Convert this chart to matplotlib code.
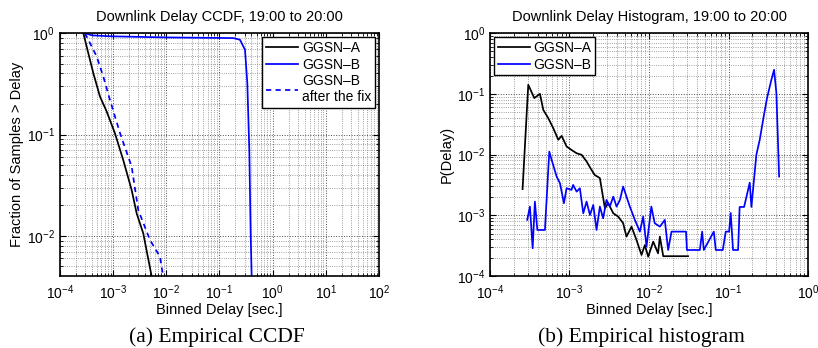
import matplotlib
matplotlib.use("Agg")
import matplotlib.pyplot as plt
from matplotlib.ticker import LogLocator, NullFormatter

# Данные для CCDF (левый график)
ccdf_a_x = [2.75e-4, 3.41e-4, 4.24e-4, 5.65e-4, 7.55e-4, 1.08e-3, 1.55e-3, 2.23e-3, 2.77e-3, 3.69e-3, 5.3e-3]
ccdf_a_y = [1.0, 0.635, 0.403, 0.237, 0.169, 0.103, 0.056, 0.0284, 0.0167, 0.0106, 0.0040]

ccdf_b_x = [2.95e-4, 4.0e-4, 8.7e-4, 1.01e-2, 0.182, 0.243, 0.302, 0.334, 0.364, 0.386, 0.403]
ccdf_b_y = [1.0, 0.95, 0.93, 0.906, 0.893, 0.86, 0.685, 0.321, 0.0706, 0.0106, 0.0040]

ccdf_fix_x = [2.95e-4, 4.9e-4, 6.53e-4, 8.7e-4, 1.35e-3, 2.23e-3, 2.97e-3, 4.93e-3, 7.6e-3, 8.8e-3]
ccdf_fix_y = [1.0, 0.589, 0.373, 0.22, 0.103, 0.0483, 0.018, 0.00914, 0.00625, 0.0039]

ccdf_xticks = [1e-4, 1e-3, 1e-2, 1e-1, 1e0, 1e1, 1e2]
ccdf_yticks = [1e-2, 1e-1, 1e0]

# Данные для гистограммы (правый график)
hist_a_x = [2.57e-4, 3.03e-4, 3.61e-4, 4.25e-4, 4.68e-4, 5.41e-4, 6.25e-4, 7.23e-4, 7.97e-4, 9.19e-4,
            1.06e-3, 1.23e-3, 1.42e-3, 1.64e-3, 1.89e-3, 2.08e-3, 2.41e-3, 2.79e-3, 3.07e-3, 3.55e-3,
            4.10e-3, 4.73e-3, 5.21e-3, 6.03e-3, 6.97e-3, 8.05e-3, 8.87e-3, 9.77e-3, 1.13e-2, 1.30e-2,
            1.37e-2, 1.51e-2, 3.10e-2]
hist_a_y = [2.7e-3, 0.141, 0.085, 0.100, 0.0545, 0.0397, 0.0272, 0.0175, 0.0203, 0.0136,
            0.0119, 0.0105, 0.0099, 0.0077, 0.0056, 0.0046, 0.0041, 0.0013, 0.00158, 0.00108,
            0.00095, 0.00074, 0.000445, 0.00065, 0.00039, 0.000222, 0.000324, 0.000208, 0.000368, 0.000236,
            0.000445, 0.000212, 0.000212]

hist_b_x = [2.94e-4, 3.18e-4, 3.44e-4, 3.67e-4, 3.94e-4, 4.91e-4, 5.57e-4, 5.96e-4, 6.89e-4, 7.59e-4,
            8.51e-4, 9.19e-4, 1.06e-3, 1.11e-3, 1.23e-3, 1.35e-3, 1.49e-3, 1.64e-3, 1.81e-3, 1.99e-3,
            2.19e-3, 2.41e-3, 2.65e-3, 2.92e-3, 3.22e-3, 3.55e-3, 3.91e-3, 4.31e-3, 4.73e-3, 5.21e-3,
            5.74e-3, 6.64e-3, 7.67e-3, 8.45e-3, 9.31e-3, 1.07e-2, 1.18e-2, 1.37e-2, 1.58e-2, 1.74e-2,
            1.92e-2, 2.92e-2, 3.0e-2, 4.36e-2, 4.66e-2, 4.89e-2, 6.53e-2, 6.92e-2, 8.47e-2, 9.23e-2,
            0.1017, 0.1066, 0.114, 0.132, 0.138, 0.157, 0.185, 0.194, 0.224, 0.247,
            0.277, 0.305, 0.346, 0.374, 0.400, 0.433]
hist_b_y = [0.00084, 0.00139, 0.000286, 0.00168, 0.000573, 0.000573, 0.0112, 0.0082, 0.00434, 0.00337,
            0.00158, 0.00279, 0.00262, 0.00316, 0.00245, 0.00279, 0.00108, 0.00168, 0.00101, 0.00148,
            0.000573, 0.00139, 0.00089, 0.00179, 0.00139, 0.00203, 0.00139, 0.00179, 0.00297, 0.00203,
            0.00139, 0.00084, 0.000538, 0.00095, 0.000305, 0.00139, 0.00074, 0.00065, 0.00084, 0.000268,
            0.000538, 0.000538, 0.000268, 0.000268, 0.000538, 0.000268, 0.000538, 0.000268, 0.000268, 0.000538,
            0.000538, 0.00109, 0.000268, 0.000268, 0.00137, 0.00137, 0.00345, 0.00137, 0.0099, 0.0175,
            0.0423, 0.085, 0.170, 0.249, 0.103, 0.00434]

hist_xticks = [1e-4, 1e-3, 1e-2, 1e-1, 1e0]
hist_yticks = [1e-4, 1e-3, 1e-2, 1e-1, 1e0]

plt.rcParams['font.family'] = ['Liberation Sans', 'DejaVu Sans']
plt.rcParams['font.size'] = 10
plt.rcParams['mathtext.fontset'] = 'custom'
plt.rcParams['mathtext.rm'] = 'Liberation Sans'
plt.rcParams['mathtext.it'] = 'Liberation Sans:italic'
plt.rcParams['axes.unicode_minus'] = False

fig = plt.figure(figsize=(8.18, 3.48), dpi=100)
ax1 = fig.add_axes([0.0733, 0.2069, 0.390, 0.698])
ax2 = fig.add_axes([0.599, 0.2069, 0.3888, 0.698])


def style_axes(ax, xticks, yticks):
    ax.set_xscale('log')
    ax.set_yscale('log')
    ax.set_xticks(xticks)
    ax.set_yticks(yticks)
    ax.grid(True, which='major', linestyle=':', color='0.3', linewidth=0.7)
    ax.grid(True, which='minor', linestyle=':', color='0.5', linewidth=0.6)
    ax.tick_params(which='both', direction='in', top=True, right=True, labelsize=10)
    ax.tick_params(axis='x', which='major', pad=5)
    ax.tick_params(which='major', length=4, width=0.8)
    ax.tick_params(which='minor', length=2, width=0.6)
    ax.yaxis.set_minor_locator(LogLocator(base=10, subs=range(2, 10), numticks=20))
    ax.xaxis.set_minor_locator(LogLocator(base=10, subs=range(2, 10), numticks=20))
    ax.xaxis.set_minor_formatter(NullFormatter())
    ax.yaxis.set_minor_formatter(NullFormatter())
    for s in ax.spines.values():
        s.set_linewidth(1.2)


# 1. CCDF
ax1.plot(ccdf_a_x, ccdf_a_y, color='k', linewidth=1.25, label='GGSN\u2013A')
ax1.plot(ccdf_b_x, ccdf_b_y, color='#0000ff', linewidth=1.25, label='GGSN\u2013B')
ax1.plot(ccdf_fix_x, ccdf_fix_y, color='#0000ff', linewidth=1.25, linestyle='--',
         dashes=(3, 2.5), label='GGSN\u2013B\nafter the fix')
style_axes(ax1, ccdf_xticks, ccdf_yticks)
ax1.set_xlim(1e-4, 1e2)
ax1.set_ylim(4.03e-3, 1)
ax1.set_title('Downlink Delay CCDF, 19:00 to 20:00', fontsize=10.5, pad=9)
ax1.set_xlabel('Binned Delay [sec.]', fontsize=10.5, labelpad=1)
ax1.set_ylabel('Fraction of Samples > Delay', fontsize=10.5, labelpad=2)
leg1 = ax1.legend(loc='upper right', fontsize=10, frameon=True, fancybox=False,
                  edgecolor='k', handlelength=2.3, handletextpad=0.3,
                  borderpad=0.25, labelspacing=0.2, borderaxespad=0.3)
leg1.get_frame().set_linewidth(1.0)
leg1.get_frame().set_alpha(1)

# 2. Гистограмма
ax2.plot(hist_a_x, hist_a_y, color='k', linewidth=1.25, label='GGSN\u2013A')
ax2.plot(hist_b_x, hist_b_y, color='#0000ff', linewidth=1.25, label='GGSN\u2013B')
style_axes(ax2, hist_xticks, hist_yticks)
ax2.set_xlim(1e-4, 1)
ax2.set_ylim(1e-4, 1)
ax2.set_title('Downlink Delay Histogram, 19:00 to 20:00', fontsize=10.5, pad=9)
ax2.set_xlabel('Binned Delay [sec.]', fontsize=10.5, labelpad=1)
ax2.set_ylabel('P(Delay)', fontsize=10.5, labelpad=2)
leg2 = ax2.legend(loc='upper left', fontsize=10, frameon=True, fancybox=False,
                  edgecolor='k', handlelength=2.3, handletextpad=0.3,
                  borderpad=0.25, labelspacing=0.2, borderaxespad=0.3)
leg2.get_frame().set_linewidth(1.0)
leg2.get_frame().set_alpha(1)

# Подписи
fig.text(0.265, 0.032, '(a) Empirical CCDF', ha='center', va='center',
         fontsize=15.5, family='Liberation Serif')
fig.text(0.784, 0.032, '(b) Empirical histogram', ha='center', va='center',
         fontsize=15.5, family='Liberation Serif')

fig.savefig('out.png', dpi=100)
